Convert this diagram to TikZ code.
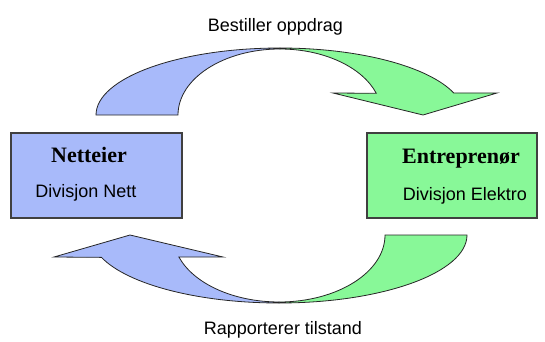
\documentclass[tikz,border=0pt]{standalone}
\usepackage{fontspec}
\setmainfont{Liberation Sans}
\newfontfamily\boldserif{Liberation Serif}
\definecolor{paleblue}{RGB}{168,186,250}
\definecolor{palegreen}{RGB}{136,248,152}
\definecolor{edgegray}{RGB}{64,64,64}
\begin{document}
\begin{tikzpicture}[x=1pt,y=1pt,
  boxstyle/.style={draw=edgegray,line width=1.3pt,minimum height=85pt,inner sep=0pt},
  arrowpart/.style={draw=black!85,line width=0.8pt,line join=miter},
  titletext/.style={anchor=base,inner sep=0pt,font=\boldserif\bfseries\fontsize{22}{24}\selectfont},
  subtext/.style={anchor=base,inner sep=0pt,font=\fontsize{18}{20}\selectfont},
  labeltext/.style={anchor=base,inner sep=0pt,font=\fontsize{18}{20}\selectfont}]
\useasboundingbox (0,0) rectangle (545,341);
% boxes
\node[boxstyle,fill=paleblue,minimum width=171pt] (netteier) at (96.5,165.5) {};
\node[boxstyle,fill=palegreen,minimum width=170pt] (entreprenor) at (452,165.5) {};
\node[titletext] (t1) at (89,179) {Netteier};
\node[subtext] (s1) at (86,144) {Divisjon Nett};
\node[titletext] (t2) at (461,178) {Entrepren\o r};
\node[subtext] (s2) at (465,141) {Divisjon Elektro};
% top arrow
\path[arrowpart,fill=paleblue] (96,226) arc[start angle=180,end angle=90,x radius=184,y radius=67]
  -- (280,292) arc[start angle=90,end angle=180,x radius=102,y radius=66] -- cycle;
\path[arrowpart,fill=palegreen] (280,293) arc[start angle=90,end angle=19.2,x radius=184,y radius=67]
  -- (497,248) -- (423,226) -- (333,248) -- (376.3,247.7)
  arc[start angle=19.2,end angle=90,x radius=102,y radius=66] -- cycle;
% bottom arrow
\path[arrowpart,fill=palegreen] (467,106) arc[start angle=0,end angle=-90,x radius=188,y radius=68]
  -- (279,39) arc[start angle=-90,end angle=0,x radius=106,y radius=67] -- cycle;
\path[arrowpart,fill=paleblue] (279,38) arc[start angle=-90,end angle=-160.8,x radius=188,y radius=68]
  -- (54,84) -- (130,106) -- (223,84) -- (178.9,84.0)
  arc[start angle=-160.8,end angle=-90,x radius=106,y radius=67] -- cycle;
% labels
\node[labeltext] (l1) at (275.5,309) {Bestiller oppdrag};
\node[labeltext] (l2) at (283,7) {Rapporterer tilstand};
\end{tikzpicture}
\end{document}
